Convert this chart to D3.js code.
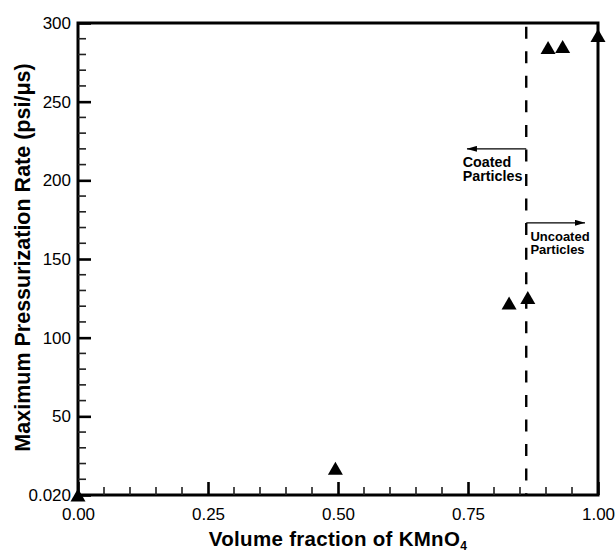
<!DOCTYPE html>
<html>
<head>
<meta charset="utf-8">
<script src="https://cdn.jsdelivr.net/npm/d3@7"></script>
<style>
  body { margin: 0; background: #fff; }
  text { font-family: "Liberation Sans", Arial, sans-serif; fill: #000; }
</style>
</head>
<body>
<div id="chart"></div>
<script>
// measured points (volume fraction, max pressurization rate)
let volumeFraction = [0.0, 0.495, 0.829, 0.865, 0.904, 0.932, 1.0];
let pressRate = [0.02, 17, 122, 125.5, 284.5, 285, 292];

let xTicks = [0, 0.25, 0.5, 0.75, 1.0];
let xTickLabels = ["0.00", "0.25", "0.50", "0.75", "1.00"];
let yTicks = [0, 50, 100, 150, 200, 250, 300];
let yTickLabels = ["0.020", "50", "100", "150", "200", "250", "300"];
let xMinorTicks = [0.05, 0.1, 0.15, 0.2, 0.3, 0.35, 0.4, 0.45, 0.55, 0.6, 0.65, 0.7, 0.8, 0.85, 0.9, 0.95];
let yMinorTicks = [10, 20, 30, 40, 60, 70, 80, 90, 110, 120, 130, 140, 160, 170, 180, 190, 210, 220, 230, 240, 260, 270, 280, 290];

// boundary between coated / uncoated
let boundaryX = 0.862;
let coatedArrow = {y: 220, xTo: 0.748, lines: ["Coated", "Particles"], tx: 0.740, ty: [208.5, 199.3]};
let uncoatedArrow = {y: 173, xTo: 0.975, lines: ["Uncoated", "Particles"], tx: 0.870, ty: [161.6, 153.2]};

let margin = {top: 23, right: 18, bottom: 57, left: 78};
let width = 616 - margin.left - margin.right;
let height = 552 - margin.top - margin.bottom;

let svg = d3.select("#chart").append("svg")
    .attr("width", 616)
    .attr("height", 552)
    .append("g")
    .attr("transform", `translate(${margin.left},${margin.top})`);

let x = d3.scaleLinear().domain([0, 1]).range([0, width]);
let y = d3.scaleLinear().domain([0, 300]).range([height, 0]);

// frame
svg.append("rect")
    .attr("x", 0).attr("y", 0)
    .attr("width", width).attr("height", height)
    .attr("fill", "none")
    .attr("stroke", "#000")
    .attr("stroke-width", 3);

// major ticks + labels
svg.append("g")
    .attr("transform", `translate(0,${height})`)
    .call(d3.axisBottom(x).tickValues(xTicks).tickSize(-13).tickPadding(13)
        .tickFormat((d, i) => xTickLabels[i]))
    .call(g => g.select(".domain").remove())
    .call(g => g.selectAll("line").attr("stroke", "#000").attr("stroke-width", 2.6))
    .call(g => g.selectAll("text").attr("font-size", 17).attr("fill", "#000"));

svg.append("g")
    .call(d3.axisLeft(y).tickValues(yTicks).tickSize(-13).tickPadding(7)
        .tickFormat((d, i) => yTickLabels[i]))
    .call(g => g.select(".domain").remove())
    .call(g => g.selectAll("line").attr("stroke", "#000").attr("stroke-width", 2.6))
    .call(g => g.selectAll("text").attr("font-size", 17).attr("fill", "#000"));

// minor ticks, drawn as thin filled rects
svg.selectAll(".xminor")
    .data(xMinorTicks)
    .enter().append("rect")
    .attr("class", "xminor")
    .attr("x", d => x(d) - 0.8)
    .attr("y", height - 8)
    .attr("width", 1.6)
    .attr("height", 8)
    .attr("fill", "#222");

svg.selectAll(".yminor")
    .data(yMinorTicks)
    .enter().append("rect")
    .attr("class", "yminor")
    .attr("x", 0)
    .attr("y", d => y(d) - 0.8)
    .attr("width", 8)
    .attr("height", 1.6)
    .attr("fill", "#222");

// dashed boundary
svg.append("line")
    .attr("x1", x(boundaryX)).attr("x2", x(boundaryX))
    .attr("y1", y(300)).attr("y2", y(0))
    .attr("stroke", "#000")
    .attr("stroke-width", 2.4)
    .attr("stroke-dasharray", "12,12.55")
    .attr("stroke-dashoffset", -3.7 + 24.55);

// arrows
svg.append("defs").append("marker")
    .attr("id", "head")
    .attr("viewBox", "0 0 10 6")
    .attr("refX", 10).attr("refY", 3)
    .attr("markerWidth", 10).attr("markerHeight", 6)
    .attr("markerUnits", "userSpaceOnUse")
    .attr("orient", "auto")
    .append("path")
    .attr("d", "M0,0L10,3L0,6Z")
    .attr("fill", "#000");

[coatedArrow, uncoatedArrow].forEach((a, k) => {
    svg.append("line")
        .attr("x1", x(boundaryX)).attr("x2", x(a.xTo))
        .attr("y1", y(a.y)).attr("y2", y(a.y))
        .attr("stroke", "#000")
        .attr("stroke-width", 1.2)
        .attr("marker-end", "url(#head)");
    a.lines.forEach((t, i) => {
        svg.append("text")
            .attr("x", x(a.tx))
            .attr("y", y(a.ty[i]))
            .attr("font-size", k === 0 ? 14.3 : 13)
            .attr("font-weight", "bold")
            .text(t);
    });
});

// data markers
svg.selectAll(".pt")
    .data(volumeFraction.map((v, i) => ({x: v, y: pressRate[i]})))
    .enter().append("path")
    .attr("class", "pt")
    .attr("d", "M0,-6.5L7.5,6.5L-7.5,6.5Z")
    .attr("transform", d => `translate(${x(d.x)},${y(d.y)})`)
    .attr("fill", "#000");

// axis titles
let xt = svg.append("text")
    .attr("x", width / 2)
    .attr("y", height + 51)
    .attr("text-anchor", "middle")
    .attr("font-size", 20.5)
    .attr("font-weight", "bold")
    .attr("letter-spacing", 0.3);
xt.append("tspan").text("Volume fraction of KMnO");
xt.append("tspan").attr("font-size", 12).attr("dy", 4).text("4");

svg.append("text")
    .attr("transform", `translate(${-78 + 30},${(62 + 453) / 2 - margin.top}) rotate(-90)`)
    .attr("text-anchor", "middle")
    .attr("font-size", 21.5)
    .attr("font-weight", "bold")
    .text("Maximum Pressurization Rate (psi/μs)");
</script>
</body>
</html>
